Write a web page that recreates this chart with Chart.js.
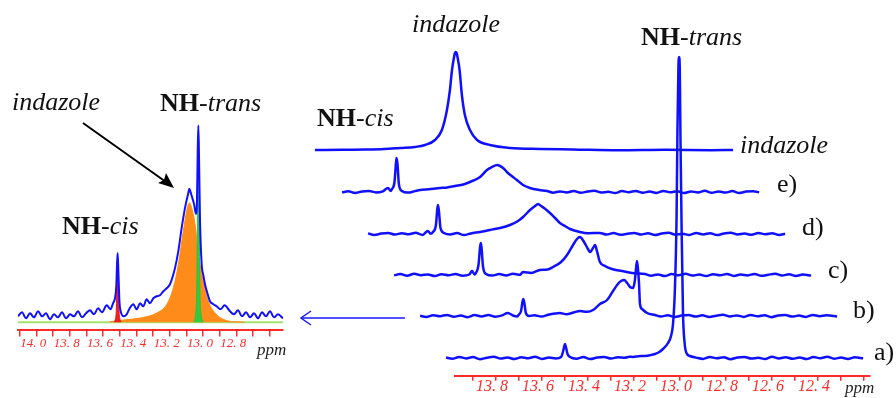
<!DOCTYPE html>
<html lang="en">
<head>
<meta charset="UTF-8">
<title>NH-cis / NH-trans / indazole</title>
<script src="https://cdn.jsdelivr.net/npm/chart.js"></script>
<style>
  html, body { margin: 0; padding: 0; background: #fff; }
  body { width: 896px; height: 398px; position: relative; overflow: hidden; font-family: "Liberation Serif", "DejaVu Serif", serif; }
  canvas { position: absolute; }
  .lbl { position: absolute; font-size: 26px; line-height: 1; white-space: nowrap; color: #111; }
  .ppm { position: absolute; font-size: 17px; font-style: italic; line-height: 1; color: #222; }
  svg { position: absolute; left: 0; top: 0; }
</style>
</head>
<body>
<canvas id="inset" width="300" height="350" style="left:0;top:0"></canvas>
<canvas id="stack" width="596" height="398" style="left:300px;top:0"></canvas>
<canvas id="axisR" width="440" height="42" style="left:445px;top:350px"></canvas>

<div class="lbl" style="left:12px;top:89px"><i>indazole</i></div>
<div class="lbl" style="left:160px;top:90px"><b>NH</b>-<i>trans</i></div>
<div class="lbl" style="left:62px;top:213px"><b>NH</b>-<i>cis</i></div>
<div class="ppm" style="left:257px;top:341px">ppm</div>

<div class="lbl" style="left:412px;top:11px"><i>indazole</i></div>
<div class="lbl" style="left:641px;top:24px"><b>NH</b>-<i>trans</i></div>
<div class="lbl" style="left:317px;top:105px"><b>NH</b>-<i>cis</i></div>
<div class="lbl" style="left:740px;top:132px"><i>indazole</i></div>
<div class="lbl" style="left:777px;top:171px">e)</div>
<div class="lbl" style="left:802px;top:214px">d)</div>
<div class="lbl" style="left:828px;top:257px">c)</div>
<div class="lbl" style="left:853px;top:297px">b)</div>
<div class="lbl" style="left:874px;top:339px">a)</div>
<div class="ppm" style="left:845px;top:379px">ppm</div>

<svg width="896" height="398">
  <line x1="83" y1="123" x2="166" y2="182" stroke="#000" stroke-width="2"/>
  <path d="M174,188 L158,183 L164,180 L166,173 Z" fill="#000"/>
  <line x1="301" y1="318" x2="405" y2="318" stroke="#1a1aff" stroke-width="1.5"/>
  <polyline points="311,311 301,318 311,325" fill="none" stroke="#1a1aff" stroke-width="1.5"/>
</svg>

<script>
// ---- right panel: stacked 1H spectra, [ppm, intensity] ----
const traceA = [[14.017,0.5],[13.99,-0.8],[13.96,1.1],[13.93,-0.4],[13.90,0.9],[13.87,-1.2],[13.84,0.3],[13.81,1.3],[13.78,-0.6],[13.75,0.6],[13.72,-1.0],[13.69,0.8],[13.66,-0.3],[13.63,1.2],[13.60,-0.9],[13.57,0.4],[13.54,-0.5],
  [13.517,1],[13.509,6],[13.502,13],[13.500,14],[13.496,11],[13.489,4],[13.478,1],
  [13.45,-0.7],[13.42,0.9],[13.39,-1.1],[13.36,0.5],[13.33,1.0],[13.30,-0.6],[13.27,0.8],[13.24,0.2],[13.22,1.3],
  [13.204,1],[13.18,1.8],[13.152,2],[13.13,2.8],[13.109,4],[13.09,6],[13.074,9],[13.052,15],[13.039,22],[13.030,35],[13.022,70],[13.015,140],[13.011,230],[13.007,290],[13.004,301],[13.001,290],[12.998,220],[12.993,130],[12.987,45],[12.980,15],[12.972,5],[12.957,2],
  [12.93,0.4],[12.90,-0.9],[12.87,1.1],[12.84,-0.3],[12.81,0.7],[12.78,-1.2],[12.75,0.5],[12.72,1.0],[12.69,-0.6],[12.66,0.3],[12.63,-1.0],[12.60,1.2],[12.57,-0.4],[12.54,0.8],[12.51,-0.8],[12.48,0.6],[12.45,-1.1],[12.42,0.9],[12.39,-0.2],[12.36,1.3],[12.33,-0.7],[12.30,0.4],[12.27,-1.0],[12.24,0.7],[12.204,-0.3]];

const traceB = [[14.017,0.3],[13.99,-0.9],[13.96,0.8],[13.93,-0.2],[13.90,1.1],[13.87,-0.7],[13.84,0.5],[13.81,-1.2],[13.78,0.9],[13.75,-0.4],[13.72,1.0],[13.69,-0.8],[13.66,0.6],[13.636,3],[13.61,0.2],[13.595,-0.5],
  [13.587,1.5],[13.578,5],[13.572,14],[13.568,17],[13.563,12],[13.557,3],[13.543,0],
  [13.52,0.8],[13.49,-0.6],[13.46,1.2],[13.43,2.5],[13.409,3],[13.38,1.8],[13.35,3.5],[13.322,5],[13.29,4.2],[13.265,6],[13.235,12],[13.204,16],[13.178,25],[13.157,32],[13.143,35],[13.130,36],[13.117,33],[13.104,29],[13.091,28],[13.083,36],[13.078,48],[13.074,55],[13.070,48],[13.065,32],[13.061,12],[13.052,7],[13.030,3],[12.996,1],
  [12.97,-0.5],[12.94,0.8],[12.91,-1.0],[12.88,0.4],[12.85,1.1],[12.82,-0.6],[12.79,0.7],[12.76,-1.1],[12.73,0.3],[12.70,1.2],[12.67,-0.4],[12.64,0.6],[12.61,-0.9],[12.58,1.0],[12.55,-0.3],[12.52,0.8],[12.49,-1.2],[12.46,0.5],[12.43,1.0],[12.40,-0.6],[12.37,0.4],[12.34,-0.9],[12.31,1.1],[12.28,-0.2],[12.25,0.7],[12.204,-0.5]];

const traceC = [[14.017,-0.4],[13.99,0.9],[13.96,-0.7],[13.93,1.2],[13.90,-0.3],[13.87,0.6],[13.84,-1.1],[13.81,0.8],[13.78,-0.2],[13.75,1.0],[13.72,-0.8],[13.69,0.5],[13.678,4],[13.667,0.5],
  [13.661,2],[13.650,10],[13.643,28],[13.640,32],[13.637,28],[13.630,8],[13.617,1],
  [13.59,-0.6],[13.56,0.9],[13.53,-0.4],[13.50,1.3],[13.47,0.2],[13.457,3],[13.42,2.1],[13.383,5],[13.35,5.5],[13.326,8],[13.291,13],[13.265,20],[13.239,30],[13.222,36],[13.209,38],[13.191,33],[13.174,26],[13.165,23],[13.152,27],[13.143,30],[13.135,24],[13.122,13],[13.100,9],[13.070,6],[13.026,4],[12.983,2],[12.926,1],
  [12.90,-0.7],[12.87,0.6],[12.84,-1.0],[12.81,0.9],[12.78,-0.3],[12.75,1.2],[12.72,-0.6],[12.69,0.4],[12.66,-1.1],[12.63,0.8],[12.60,-0.2],[12.57,1.0],[12.54,-0.9],[12.51,0.5],[12.48,-0.4],[12.45,1.1],[12.42,-0.8],[12.39,0.3],[12.36,1.2],[12.33,-0.5],[12.30,0.7],[12.27,-1.0],[12.24,0.4],[12.204,-0.6]];

const traceD = [[14.017,0.6],[13.99,-1.0],[13.96,0.4],[13.93,1.1],[13.90,-0.6],[13.87,0.8],[13.84,-0.3],[13.81,1.2],[13.78,-0.9],[13.757,3],[13.745,0.2],
  [13.735,2],[13.722,9],[13.716,25],[13.713,29],[13.709,23],[13.702,6],[13.687,1],
  [13.66,-0.5],[13.63,0.9],[13.60,-1.1],[13.57,0.6],[13.530,2],[13.487,4],[13.443,6],[13.400,9],[13.365,13],[13.343,17],[13.313,24],[13.291,28],[13.278,30],[13.265,28],[13.252,26],[13.226,21],[13.204,16],[13.183,11],[13.161,8],[13.139,5],[13.096,2],[13.06,0.8],[13.009,1],
  [12.98,-0.6],[12.95,0.9],[12.92,-0.8],[12.89,0.3],[12.86,1.1],[12.83,-0.5],[12.80,0.7],[12.77,-1.0],[12.74,0.5],[12.71,1.2],[12.68,-0.7],[12.65,0.2],[12.62,-0.9],[12.59,1.0],[12.56,-0.4],[12.53,0.8],[12.50,-1.1],[12.47,0.6],[12.44,1.3],[12.41,-0.5],[12.38,0.4],[12.35,-0.8],[12.32,1.0],[12.29,-0.3],[12.26,0.7],[12.23,-0.9],[12.204,0.3]];

const traceE = [[14.017,-0.5],[13.99,0.8],[13.96,-1.0],[13.93,0.6],[13.90,1.1],[13.87,-0.4],[13.84,0.7],[13.817,4],[13.806,1],
  [13.800,3],[13.789,10],[13.783,28],[13.780,34],[13.776,28],[13.770,8],[13.757,1],
  [13.73,-0.6],[13.70,0.9],[13.678,2],[13.64,2.8],[13.591,4],[13.56,4.5],[13.526,6],[13.49,7.5],[13.461,10],[13.417,15],[13.387,22],[13.365,25],[13.343,27],[13.317,24],[13.296,19],[13.274,15],[13.257,12],[13.230,7],[13.200,4],[13.16,2],[13.126,1],
  [13.10,-0.7],[13.07,0.6],[13.04,-0.4],[13.01,1.0],[12.98,-0.8],[12.95,0.5],[12.92,1.2],[12.89,-0.6],[12.86,0.3],[12.83,-1.0],[12.80,0.9],[12.77,-0.2],[12.74,1.1],[12.71,-0.7],[12.68,0.4],[12.65,-0.9],[12.62,1.0],[12.59,-0.3],[12.56,0.8],[12.53,-1.1],[12.50,0.6],[12.47,-0.4],[12.44,1.2],[12.41,-0.8],[12.38,0.5],[12.35,-0.6],[12.32,0.9],[12.29,-1.0],[12.26,0.4],[12.23,0.8],[12.204,-0.4]];

const traceIndazole = [[14.022,0],[13.90,0.3],[13.80,0.5],[13.72,1],[13.652,2],[13.587,3],[13.543,5],[13.500,10],[13.470,20],[13.448,40],[13.435,60],[13.426,80],[13.417,93],[13.413,97],[13.410,98],[13.406,97],[13.402,93],[13.393,80],[13.383,55],[13.370,35],[13.348,20],[13.317,10],[13.261,5],[13.174,2],[13.043,1],[12.90,0.5],[12.70,-0.3],[12.50,0.2],[12.30,-0.2],[12.204,0]];

const rightTicks = [13.9,13.8,13.7,13.6,13.5,13.4,13.3,13.2,13.1,13.0,12.9,12.8,12.7,12.6,12.5,12.4,12.3,12.2];
const rightTickLabels = ['13.8','13.6','13.4','13.2','13.0','12.8','12.6','12.4'];

// ---- left inset: trace b with its deconvolution ----
const insetSpectrum = [[14.110,14],[14.086,18],[14.062,12],[14.038,17],[14.014,13],[13.990,19],[13.966,14],[13.942,17],[13.918,11],[13.894,16],[13.870,13],[13.846,18],[13.822,12],[13.798,16],[13.774,14],[13.750,19],[13.726,13],[13.702,17],[13.678,20],[13.654,16],[13.630,22],[13.606,18],[13.578,25],[13.555,21],[13.540,27],[13.528,32],
  [13.520,45],[13.516,65],[13.512,77],[13.507,55],[13.501,28],[13.494,19],
  [13.476,14],[13.458,16],[13.440,22],[13.418,26],[13.398,21],[13.378,27],[13.358,24],[13.338,31],[13.318,27],[13.298,32],[13.278,34],[13.258,35],[13.238,39],[13.218,42],[13.198,46],[13.183,53],[13.168,62],[13.148,79],[13.128,102],[13.108,122],[13.088,137],[13.082,141],[13.075,138],[13.068,134],[13.054,126],[13.042,116],[13.036,130],[13.032,175],[13.028,204],[13.024,175],[13.018,110],[13.008,66],[12.998,55],[12.988,46],[12.970,35],[12.958,29],[12.938,26],[12.918,24],[12.895,21],[12.870,25],[12.838,19],
  [12.815,16],[12.790,20],[12.766,14],[12.742,18],[12.718,13],[12.694,17],[12.670,12],[12.646,18],[12.622,14],[12.598,19],[12.574,13],[12.550,16],[12.520,12]];
const fitIndazole = [[13.56,8.5],[13.458,10.7],[13.378,12.3],[13.278,17.3],[13.218,25.7],[13.178,42.3],[13.148,65.7],[13.118,99],[13.098,119],[13.082,127],[13.068,122],[13.048,106],[13.028,76],[12.998,49],[12.968,29],[12.918,15.7],[12.878,11],[12.838,9],[12.75,8.2]];
const fitTrans = [[13.054,9],[13.042,20],[13.036,60],[13.032,150],[13.028,200],[13.024,150],[13.020,60],[13.014,20],[13.000,9]];
const fitCis = [[13.534,8.5],[13.522,15],[13.516,45],[13.512,70],[13.508,45],[13.502,15],[13.490,8.5]];
const fitBaseline = [[14.11,8],[12.52,8]];

const insetTicks = [14.1,14.0,13.9,13.8,13.7,13.6,13.5,13.4,13.3,13.2,13.1,13.0,12.9,12.8,12.7,12.6];
const insetTickLabels = ['14.0','13.8','13.6','13.4','13.2','13.0','12.8'];

// ---- layout ----
const BLUE = '#1010ff';
const RED = '#ff2a2a';
const stackShift = 26 / 230;              // ppm that each trace is shifted left
const stackBase = [40, 82, 123, 164, 206, 248];
const traces = [traceA, traceB, traceC, traceD, traceE, traceIndazole];

const toXY = (arr, dx, dy) => arr.map(p => ({x: p[0] + dx, y: p[1] + dy}));
const quiet = {legend: {display: false}, tooltip: {enabled: false}};
const tickFont = size => ({family: 'Liberation Serif', size: size, style: 'italic', lineHeight: 1.2});
const fmtTick = labels => v => labels.includes(v.toFixed(1)) ? v.toFixed(1).replace('.', '. ') : '';
const smooth = {pointRadius: 0, cubicInterpolationMode: 'monotone'};

new Chart(document.getElementById('stack'), {
    type: 'line',
    data: {
        datasets: traces.map((t, k) => ({
            data: toXY(t, k * stackShift, stackBase[k]),
            borderColor: BLUE, borderWidth: 2.5, fill: false, ...smooth
        }))
    },
    options: {
        responsive: false, animation: false, events: [],
        plugins: quiet,
        scales: {
            x: {type: 'linear', min: 12.061, max: 14.652, reverse: true, display: false},
            y: {min: 0, max: 398, display: false}
        }
    }
});

new Chart(document.getElementById('axisR'), {
    type: 'line',
    data: {datasets: []},
    options: {
        responsive: false, animation: false, events: [],
        layout: {padding: {left: 10, right: 15}},
        plugins: quiet,
        scales: {
            x: {
                type: 'linear', min: 12.174, max: 13.978, reverse: true,
                afterBuildTicks: s => { s.ticks = rightTicks.map(v => ({value: v})); },
                border: {color: RED, width: 2},
                grid: {drawOnChartArea: false, tickLength: 5, color: RED, lineWidth: 1.5},
                ticks: {color: RED, font: tickFont(16), padding: -4, labelOffset: -4,
                        autoSkip: false, maxRotation: 0, callback: fmtTick(rightTickLabels)}
            },
            y: {display: false}
        }
    }
});

new Chart(document.getElementById('inset'), {
    type: 'line',
    data: {
        datasets: [
            {data: toXY(insetSpectrum, 0, 0), borderColor: BLUE, borderWidth: 2, fill: false, ...smooth},
            {data: toXY(fitTrans, 0, 0), borderColor: '#2fc23a', backgroundColor: '#35c93f', borderWidth: 1, fill: {value: 8}, ...smooth},
            {data: toXY(fitCis, 0, 0), borderColor: '#e81818', backgroundColor: '#ee2020', borderWidth: 1, fill: {value: 8}, ...smooth},
            {data: toXY(fitIndazole, 0, 0), borderColor: '#ff8c1a', backgroundColor: '#ff8c1a', borderWidth: 1, fill: {value: 8}, ...smooth},
            {data: toXY(fitBaseline, 0, 0), borderColor: '#a6e06e', borderWidth: 2, fill: false, pointRadius: 0}
        ]
    },
    options: {
        responsive: false, animation: false, events: [],
        layout: {padding: {left: 18, right: 17}},
        plugins: quiet,
        scales: {
            x: {
                type: 'linear', min: 12.52, max: 14.11, reverse: true,
                afterBuildTicks: s => { s.ticks = insetTicks.map(v => ({value: v})); },
                border: {color: RED, width: 2},
                grid: {drawOnChartArea: false, tickLength: 6, color: RED, lineWidth: 1.5},
                ticks: {color: RED, font: tickFont(13), padding: -1, labelOffset: -3,
                        autoSkip: false, maxRotation: 0, callback: fmtTick(insetTickLabels)}
            },
            y: {min: 0, max: 329, display: false}
        }
    }
});
</script>
</body>
</html>
